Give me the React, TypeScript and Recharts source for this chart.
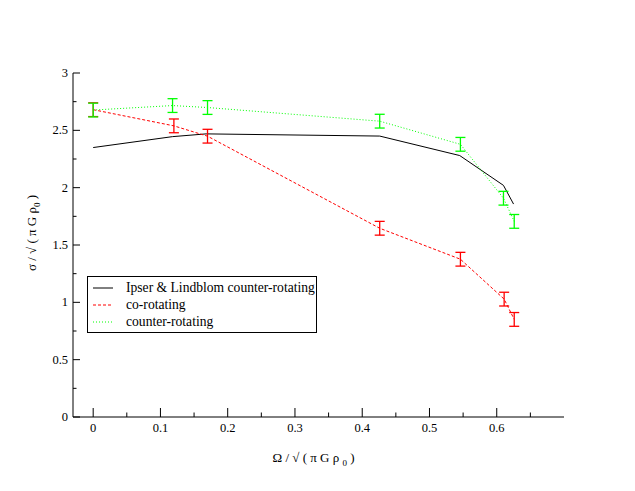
import React from 'react';
import { LineChart, Line, XAxis, YAxis, ErrorBar, Legend } from 'recharts';

// Ipser & Lindblom counter-rotating (theory, solid black)
const ilX = [0, 0.118, 0.168, 0.426, 0.545, 0.61, 0.625];
const ilY = [2.35, 2.445, 2.469, 2.45, 2.28, 2.02, 1.857];
// co-rotating (red dashed with error bars)
const coX = [0, 0.12, 0.17, 0.426, 0.546, 0.611, 0.626];
const coY = [2.68, 2.539, 2.449, 1.646, 1.376, 1.028, 0.851];
const coErr = [0.06, 0.06, 0.06, 0.06, 0.06, 0.06, 0.06];
// counter-rotating (green dotted with error bars)
const ctX = [0, 0.118, 0.17, 0.426, 0.546, 0.61, 0.626];
const ctY = [2.677, 2.716, 2.699, 2.58, 2.378, 1.908, 1.706];
const ctErr = [0.06, 0.06, 0.06, 0.06, 0.06, 0.06, 0.06];

const xTicks = [0, 0.05, 0.1, 0.15, 0.2, 0.25, 0.3, 0.35, 0.4, 0.45, 0.5, 0.55, 0.6, 0.65];
const xTickLabels = ['0', '0.1', '0.2', '0.3', '0.4', '0.5', '0.6'];
const yTicks = [0, 0.25, 0.5, 0.75, 1, 1.25, 1.5, 1.75, 2, 2.25, 2.5, 2.75, 3];
const yTickLabels = ['0', '0.5', '1', '1.5', '2', '2.5', '3'];

const ilData = ilX.map((x, i) => ({ x, y: ilY[i] }));
const coData = coX.map((x, i) => ({ x, y: coY[i], err: coErr[i] }));
const ctData = ctX.map((x, i) => ({ x, y: ctY[i], err: ctErr[i] }));

const FONT = "'Liberation Serif', 'DejaVu Serif', serif";

const fmt = (v: number) => String(Math.round(v * 100) / 100);

const isMajor = (v: number, step: number) => Math.abs(v / step - Math.round(v / step)) < 1e-6;

const makeXTick = (side: 'bottom' | 'top') => (props: any) => {
  const { x, y, payload } = props;
  const v = payload.value as number;
  const major = isMajor(v, 0.1);
  const len = major ? 9 : 4.5;
  const lab = fmt(v);
  const dir = side === 'bottom' ? -1 : 1;
  return (
    <g>
      <line x1={x} x2={x} y1={y} y2={y + dir * len} stroke="#000" strokeWidth={1} />
      {side === 'bottom' && major && xTickLabels.includes(lab) && (
        <text x={x} y={y + 15} textAnchor="middle" fontFamily={FONT} fontSize={12.5} fill="#000">
          {lab}
        </text>
      )}
    </g>
  );
};

const makeYTick = (side: 'left' | 'right') => (props: any) => {
  const { x, y, payload } = props;
  const v = payload.value as number;
  const major = isMajor(v, 0.5);
  const len = major ? 7 : 3.5;
  const lab = fmt(v);
  const dir = side === 'left' ? 1 : -1;
  return (
    <g>
      <line x1={x} x2={x + dir * len} y1={y} y2={y} stroke="#000" strokeWidth={1} />
      {side === 'left' && major && yTickLabels.includes(lab) && (
        <text x={x - 5} y={y + 4} textAnchor="end" fontFamily={FONT} fontSize={12.5} fill="#000">
          {lab}
        </text>
      )}
    </g>
  );
};

const XLabel = (props: any) => {
  const vb = props.viewBox || {};
  const cx = (vb.x ?? 73) + (vb.width ?? 491) / 2 - 5;
  const cy = (vb.y ?? 417) + 45;
  return (
    <text x={cx} y={cy} textAnchor="middle" fontFamily={FONT} fontSize={13} fill="#000">
      {'Ω / √ ( π G ρ '}
      <tspan fontSize={9} dy={4}>0</tspan>
      <tspan dy={-4}>{' )'}</tspan>
    </text>
  );
};

const YLabel = () => {
  const cx = 36;
  const cy = 233;
  return (
    <text x={cx} y={cy} textAnchor="middle" fontFamily={FONT} fontSize={13} fill="#000" transform={`rotate(-90 ${cx} ${cy})`}>
      {'σ / √ ( π G ρ'}
      <tspan fontSize={9} dy={4}>0</tspan>
      <tspan dy={-4}>{' )'}</tspan>
    </text>
  );
};

const legendItems = [
  { name: 'Ipser & Lindblom counter-rotating', color: '#000', dash: undefined as string | undefined },
  { name: 'co-rotating', color: '#ff0000', dash: '3 2' },
  { name: 'counter-rotating', color: '#00ff00', dash: '1 2' },
];

const LegendContent = () => (
  <div
    style={{
      width: 230,
      height: 57,
      boxSizing: 'border-box',
      border: '1px solid #000',
      background: '#fff',
      fontFamily: FONT,
      fontSize: 13.6,
      position: 'relative',
    }}
  >
    {legendItems.map((it, i) => (
      <div key={it.name} style={{ position: 'absolute', left: 4, top: 2 + i * 17, height: 17, display: 'flex', alignItems: 'center', whiteSpace: 'nowrap' }}>
        <svg width={22} height={4} style={{ marginRight: 12 }}>
          <line x1={1} x2={21} y1={2} y2={2} stroke={it.color} strokeWidth={1} strokeDasharray={it.dash} />
        </svg>
        <span style={{ lineHeight: '17px' }}>{it.name}</span>
      </div>
    ))}
  </div>
);

export default function App() {
  return (
    <div style={{ position: 'absolute', left: 0, top: 0, width: 635, height: 491, background: '#fff' }}>
      <LineChart width={635} height={491} margin={{ top: 73, right: 71, bottom: 0, left: 0 }}>
        <XAxis
          dataKey="x"
          type="number"
          domain={[-0.03, 0.7]}
          ticks={xTicks}
          interval={0}
          height={74}
          tickSize={0}
          tickMargin={0}
          tickLine={false}
          axisLine={{ stroke: '#000', strokeWidth: 1 }}
          tick={makeXTick('bottom')}
          allowDataOverflow
          label={<XLabel />}
        />
        <XAxis
          xAxisId="top"
          orientation="top"
          dataKey="x"
          type="number"
          domain={[-0.03, 0.7]}
          ticks={xTicks}
          interval={0}
          height={0}
          tickSize={0}
          tickMargin={0}
          tickLine={false}
          axisLine={{ stroke: '#000', strokeWidth: 1 }}
          tick={makeXTick('top')}
          allowDataOverflow
        />
        <YAxis
          type="number"
          domain={[0, 3]}
          ticks={yTicks}
          interval={0}
          width={73}
          tickSize={0}
          tickMargin={0}
          tickLine={false}
          axisLine={{ stroke: '#000', strokeWidth: 1 }}
          tick={makeYTick('left')}
          allowDataOverflow
          label={<YLabel />}
        />
        <YAxis
          yAxisId="right"
          orientation="right"
          type="number"
          domain={[0, 3]}
          ticks={yTicks}
          interval={0}
          width={0}
          tickSize={0}
          tickMargin={0}
          tickLine={false}
          axisLine={{ stroke: '#000', strokeWidth: 1 }}
          tick={makeYTick('right')}
          allowDataOverflow
        />
        <Line
          data={ilData}
          dataKey="y"
          name="Ipser & Lindblom counter-rotating"
          type="linear"
          stroke="#000"
          strokeWidth={1}
          dot={false}
          activeDot={false}
          isAnimationActive={false}
        />
        <Line
          data={coData}
          dataKey="y"
          name="co-rotating"
          type="linear"
          stroke="#ff0000"
          strokeWidth={1}
          strokeDasharray="3 2"
          dot={false}
          activeDot={false}
          isAnimationActive={false}
        >
          <ErrorBar dataKey="err" width={5} stroke="#ff0000" strokeWidth={1.3} direction="y" isAnimationActive={false} />
        </Line>
        <Line
          data={ctData}
          dataKey="y"
          name="counter-rotating"
          type="linear"
          stroke="#00ff00"
          strokeWidth={1}
          strokeDasharray="1 2"
          dot={false}
          activeDot={false}
          isAnimationActive={false}
        >
          <ErrorBar dataKey="err" width={5} stroke="#00ff00" strokeWidth={1.3} direction="y" isAnimationActive={false} />
        </Line>
        <Legend
          layout="vertical"
          align="center"
          verticalAlign="middle"
          content={<LegendContent />}
          wrapperStyle={{ position: 'absolute', left: 87, top: 276, width: 230, height: 57 }}
        />
      </LineChart>
    </div>
  );
}
